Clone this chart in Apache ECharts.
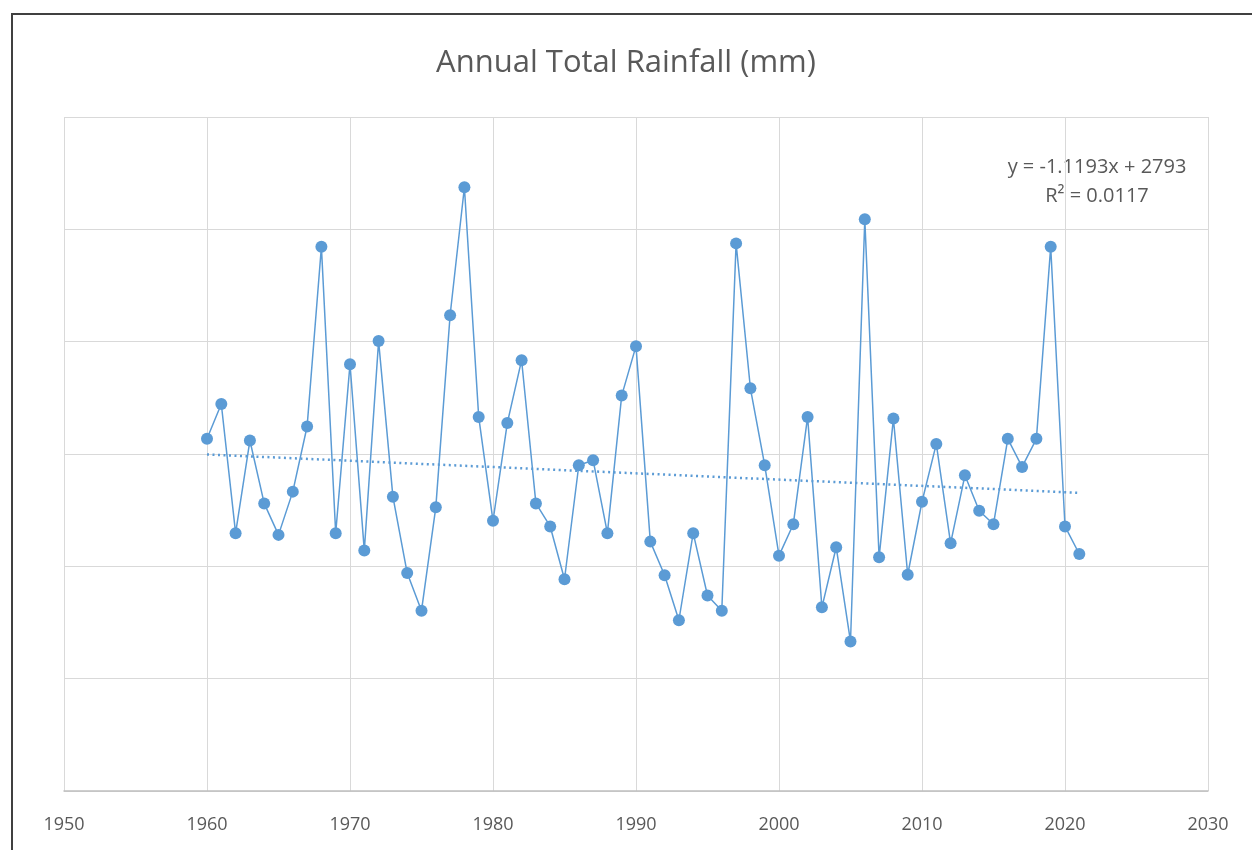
<!DOCTYPE html>
<html>
<head>
<meta charset="utf-8">
<script src="https://cdn.jsdelivr.net/npm/echarts@6/dist/echarts.min.js"></script>
<style>
html,body{margin:0;padding:0;background:#fff;}
#chart{width:1252px;height:850px;}
</style>
</head>
<body>
<div id="chart"></div>
<script>
// ---- data ----
const years = [1960,1961,1962,1963,1964,1965,1966,1967,1968,1969,
               1970,1971,1972,1973,1974,1975,1976,1977,1978,1979,
               1980,1981,1982,1983,1984,1985,1986,1987,1988,1989,
               1990,1991,1992,1993,1994,1995,1996,1997,1998,1999,
               2000,2001,2002,2003,2004,2005,2006,2007,2008,2009,
               2010,2011,2012,2013,2014,2015,2016,2017,2018,2019,
               2020,2021];
const rainfall = [627,689,459,624,512,456,533,649,969,459,
                  760,428,801,524,388,321,505,847,1075,666,
                  481,655,767,512,471,377,580,589,459,704,
                  792,444,384,304,459,348,321,975,717,580,
                  419,475,666,327,434,266,1018,416,663,385,
                  515,618,441,562,499,475,627,577,627,969,
                  471,422];
const xTicks = [1950,1960,1970,1980,1990,2000,2010,2020,2030];
const trendSlope = -1.1193;
const trendIntercept = 2793;
const trendR2 = 0.0117;
const titleText = 'Annual Total Rainfall (mm)';

// ---- build ----
const seriesData = years.map((y, i) => [y, rainfall[i]]);
const tFirst = years[0], tLast = years[years.length - 1];
const trendData = [[tFirst, trendSlope * tFirst + trendIntercept],
                   [tLast, trendSlope * tLast + trendIntercept]];
const eqLine1 = 'y = ' + trendSlope.toFixed(4) + 'x + ' + trendIntercept;
const eqLine2 = 'R\u00B2 = ' + trendR2.toFixed(4);

const FONT = '"Open Sans", sans-serif';
const chart = echarts.init(document.getElementById('chart'), null, {renderer: 'canvas'});
chart.setOption({
  animation: false,
  backgroundColor: '#ffffff',
  title: {
    text: titleText,
    left: 'center',
    top: 43,
    textStyle: {color: '#595959', fontSize: 31, fontWeight: 'normal', fontFamily: FONT}
  },
  grid: {left: 64, right: 44, top: 117, bottom: 59},
  xAxis: {
    type: 'value',
    min: xTicks[0],
    max: xTicks[xTicks.length - 1],
    interval: 10,
    axisLine: {show: true, lineStyle: {color: '#bfbfbf', width: 1.5}},
    axisTick: {show: false},
    splitLine: {show: true, lineStyle: {color: '#d9d9d9', width: 1}},
    axisLabel: {color: '#595959', fontSize: 18, fontFamily: FONT, margin: 25,
                showMinLabel: true, showMaxLabel: true,
                formatter: v => String(v)}
  },
  yAxis: {
    type: 'value',
    min: 0,
    max: 1200,
    interval: 200,
    axisLine: {show: false},
    axisTick: {show: false},
    axisLabel: {show: false},
    splitLine: {show: true, lineStyle: {color: '#d9d9d9', width: 1}}
  },
  series: [
    {
      type: 'line',
      data: seriesData,
      symbol: 'circle',
      symbolSize: 12,
      showAllSymbol: true,
      lineStyle: {color: '#5B9BD5', width: 1.5},
      itemStyle: {color: '#5B9BD5'},
      z: 2
    },
    {
      type: 'line',
      data: trendData,
      symbol: 'none',
      lineStyle: {color: '#5B9BD5', width: 2.5, type: [2, 3.5]},
      z: 3
    }
  ],
  graphic: [
    {
      type: 'rect',
      shape: {x: 12, y: 14, width: 1300, height: 900},
      style: {fill: 'none', stroke: '#404040', lineWidth: 2},
      silent: true
    },
    {
      type: 'text',
      x: 1097, y: 167,
      style: {text: eqLine1, fill: '#595959', font: '20px ' + FONT, textAlign: 'center', textVerticalAlign: 'middle'}
    },
    {
      type: 'text',
      x: 1097, y: 196,
      style: {text: eqLine2, fill: '#595959', font: '20px ' + FONT, textAlign: 'center', textVerticalAlign: 'middle'}
    }
  ]
});
</script>
</body>
</html>
